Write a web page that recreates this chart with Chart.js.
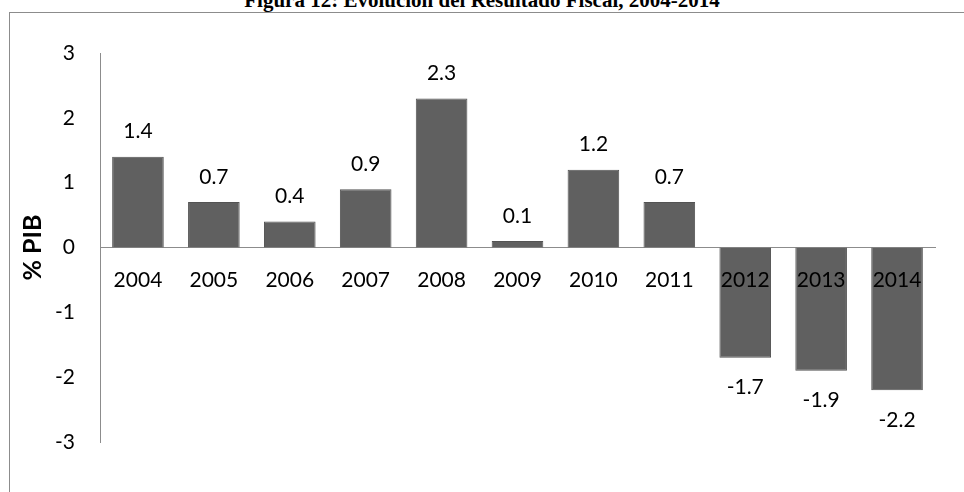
<!DOCTYPE html>
<html>
<head>
<meta charset="utf-8">
<script src="https://cdn.jsdelivr.net/npm/chart.js@4"></script>
<style>
  html, body { margin: 0; padding: 0; background: #fff; overflow: hidden; }
  #wrap { position: relative; width: 964px; height: 492px; overflow: hidden; }
  #frame { position: absolute; left: 9px; top: 12px; width: 1000px; height: 600px; border: 1px solid #8c8c8c; }
  #title { position: absolute; left: 0; width: 964px; top: -12px; text-align: center;
           font: bold 21px "Liberation Serif", "Times New Roman", serif; color: #000; }
  canvas { position: absolute; left: 0; top: 0; }
</style>
</head>
<body>
<div id="wrap">
  <div id="title">Figura 12: Evolución del Resultado Fiscal, 2004-2014</div>
  <div id="frame"></div>
  <canvas id="chart" width="964" height="492"></canvas>
</div>
<script>
const years = ['2004', '2005', '2006', '2007', '2008', '2009', '2010', '2011', '2012', '2013', '2014']
const resultado = [1.4, 0.7, 0.4, 0.9, 2.3, 0.1, 1.2, 0.7, -1.7, -1.9, -2.2]
const yTicks = [-3, -2, -1, 0, 1, 2, 3]

const fontFam = 'Lato, "Open Sans", sans-serif'

// value labels (above / below the bars) and the category names next to the zero line,
// drawn after the bars so the names stay on top of the negative ones
const barLabels = {
    id: 'barLabels',
    afterDatasetsDraw(chart) {
        const ctx = chart.ctx
        const meta = chart.getDatasetMeta(0)
        const xs = chart.scales.x
        const zeroY = chart.scales.y.getPixelForValue(0)
        ctx.save()
        ctx.font = '21px ' + fontFam
        ctx.fillStyle = '#000'
        ctx.textAlign = 'center'
        ctx.textBaseline = 'middle'
        meta.data.forEach((bar, i) => {
            let v = resultado[i]
            let y = v >= 0 ? bar.y - 25 : bar.y + 30
            ctx.fillText(v.toFixed(1), bar.x, y)
        })
        years.forEach((yr, i) => {
            ctx.fillText(yr, xs.getPixelForValue(i), zeroY + 33)
        })
        ctx.restore()
    }
}

new Chart(document.getElementById('chart'), {
    type: 'bar',
    data: {
        labels: years,
        datasets: [{
            data: resultado,
            backgroundColor: '#606060',
            borderColor: '#535353',
            borderWidth: 1,
            barPercentage: 0.68,
            categoryPercentage: 1
        }]
    },
    options: {
        responsive: false,
        animation: false,
        layout: { padding: { left: 10, top: 53, right: 29, bottom: 50 } },
        plugins: { legend: { display: false }, tooltip: { enabled: false } },
        scales: {
            x: {
                position: { y: 0 },
                grid: { display: false, drawTicks: false },
                border: { display: true, color: '#8c8c8c', width: 1 },
                ticks: { display: false }
            },
            y: {
                min: -3,
                max: 3,
                afterBuildTicks: scale => { scale.ticks = yTicks.map(v => ({ value: v })) },
                afterFit: scale => { scale.width = 90 },
                grid: { display: false, drawTicks: false },
                border: { display: true, color: '#8c8c8c', width: 1 },
                ticks: { color: '#000', font: { family: fontFam, size: 21 }, padding: 25 },
                title: {
                    display: true,
                    text: '% PIB',
                    color: '#000',
                    font: { family: fontFam, size: 25, weight: 'bold' },
                    padding: { top: 8, bottom: 0 }
                }
            }
        }
    },
    plugins: [barLabels]
})
</script>
</body>
</html>
